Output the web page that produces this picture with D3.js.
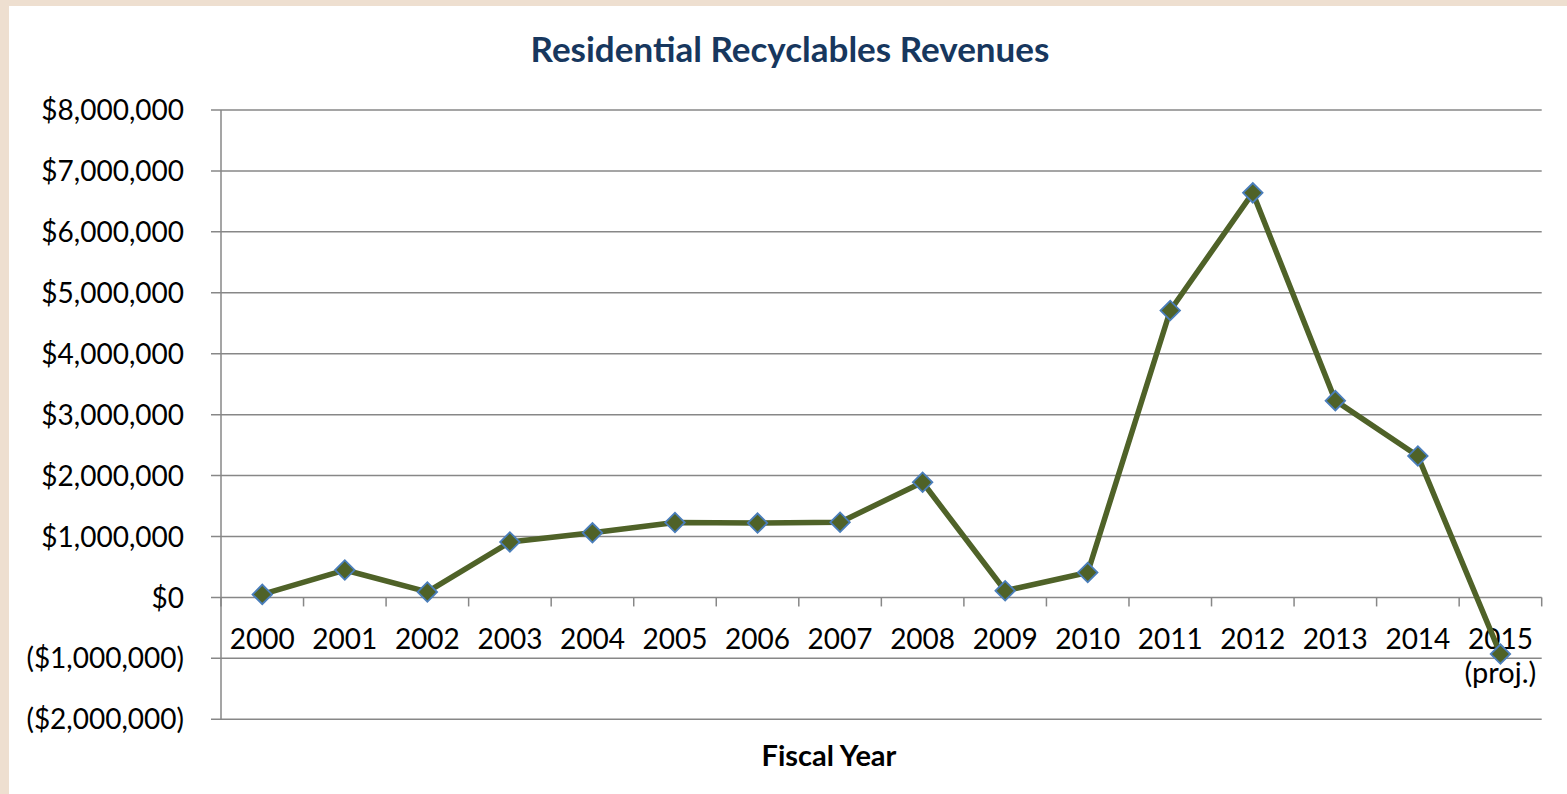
<!DOCTYPE html>
<html>
<head>
<meta charset="utf-8">
<script src="https://cdn.jsdelivr.net/npm/d3@7"></script>
<style>
  html, body { margin: 0; padding: 0; background: #EEDFD0; }
  svg { display: block; }
</style>
</head>
<body>
<svg id="chart" width="1567" height="794"></svg>
<script>
const years = ["2000","2001","2002","2003","2004","2005","2006","2007","2008","2009","2010","2011","2012","2013","2014","2015"];
const yearSub = {"2015": "(proj.)"};
const revenues = [50000, 450000, 90000, 910000, 1060000, 1230000, 1220000, 1235000, 1890000, 110000, 410000, 4710000, 6640000, 3230000, 2320000, -930000];
const yTicks = [-2000000, -1000000, 0, 1000000, 2000000, 3000000, 4000000, 5000000, 6000000, 7000000, 8000000];
const title = "Residential Recyclables Revenues";
const xTitle = "Fiscal Year";

const svg = d3.select("#chart");
const W = 1567, H = 794;
const font = "Lato, 'Open Sans', sans-serif";

svg.append("rect").attr("x", 0).attr("y", 0).attr("width", W).attr("height", H).attr("fill", "#EEDFD0");
svg.append("rect").attr("x", 9).attr("y", 6).attr("width", W - 9).attr("height", H - 6).attr("fill", "#FFFFFF");

const plot = {left: 221, right: 1541.7, top: 110, bottom: 719.3};

const y = d3.scaleLinear().domain([-2000000, 8000000]).range([plot.bottom, plot.top]);
const x = d3.scaleBand().domain(years).range([plot.left, plot.right]).padding(0);

const fmt = v => {
  const s = "$" + d3.format(",")(Math.abs(v));
  return v < 0 ? "(" + s + ")" : s;
};

const gridColor = "#878787";

svg.append("g").selectAll("line").data(yTicks).join("line")
  .attr("x1", plot.left - 10).attr("x2", plot.right)
  .attr("y1", d => y(d)).attr("y2", d => y(d))
  .attr("stroke", gridColor).attr("stroke-width", 1.5);

svg.append("line")
  .attr("x1", plot.left).attr("x2", plot.left)
  .attr("y1", plot.top).attr("y2", plot.bottom)
  .attr("stroke", gridColor).attr("stroke-width", 1.5);

svg.append("g").selectAll("text").data(yTicks).join("text")
  .attr("x", 184).attr("y", d => y(d))
  .attr("dy", "0.36em")
  .attr("text-anchor", "end")
  .attr("font-family", font).attr("font-size", 28)
  .attr("fill", "#000")
  .text(d => fmt(d));

const boundaries = years.map(d => x(d)).concat([plot.right]);
svg.append("g").selectAll("line").data(boundaries).join("line")
  .attr("x1", d => d).attr("x2", d => d)
  .attr("y1", y(0)).attr("y2", y(0) + 9)
  .attr("stroke", gridColor).attr("stroke-width", 1.5);

const xl = svg.append("g").selectAll("text").data(years).join("text")
  .attr("x", d => x(d) + x.bandwidth() / 2)
  .attr("y", 649)
  .attr("text-anchor", "middle")
  .attr("font-family", font).attr("font-size", 28)
  .attr("fill", "#000");
xl.append("tspan").attr("x", d => x(d) + x.bandwidth() / 2).text(d => d);
xl.filter(d => yearSub[d]).append("tspan")
  .attr("x", d => x(d) + x.bandwidth() / 2).attr("dy", 34).attr("font-size", 29).text(d => yearSub[d]);

const pts = years.map((d, i) => ({year: d, v: revenues[i]}));
const line = d3.line().x(d => x(d.year) + x.bandwidth() / 2).y(d => y(d.v));
svg.append("path").datum(pts)
  .attr("d", line)
  .attr("fill", "none")
  .attr("stroke", "#4F6228")
  .attr("stroke-width", 5.5)
  .attr("stroke-linejoin", "round");

svg.append("g").selectAll("path").data(pts).join("path")
  .attr("d", d3.symbol().type(d3.symbolSquare).size(190))
  .attr("transform", d => `translate(${x(d.year) + x.bandwidth() / 2},${y(d.v)}) rotate(45)`)
  .attr("fill", "#4F6228")
  .attr("stroke", "#4A7EBB")
  .attr("stroke-width", 1.8);

svg.append("text")
  .attr("x", 790).attr("y", 62)
  .attr("text-anchor", "middle")
  .attr("font-family", font).attr("font-size", 35).attr("font-weight", "bold")
  .attr("fill", "#17375E")
  .text(title);

svg.append("text")
  .attr("x", 829).attr("y", 766)
  .attr("text-anchor", "middle")
  .attr("font-family", font).attr("font-size", 29).attr("font-weight", "bold")
  .attr("fill", "#000")
  .text(xTitle);
</script>
</body>
</html>
